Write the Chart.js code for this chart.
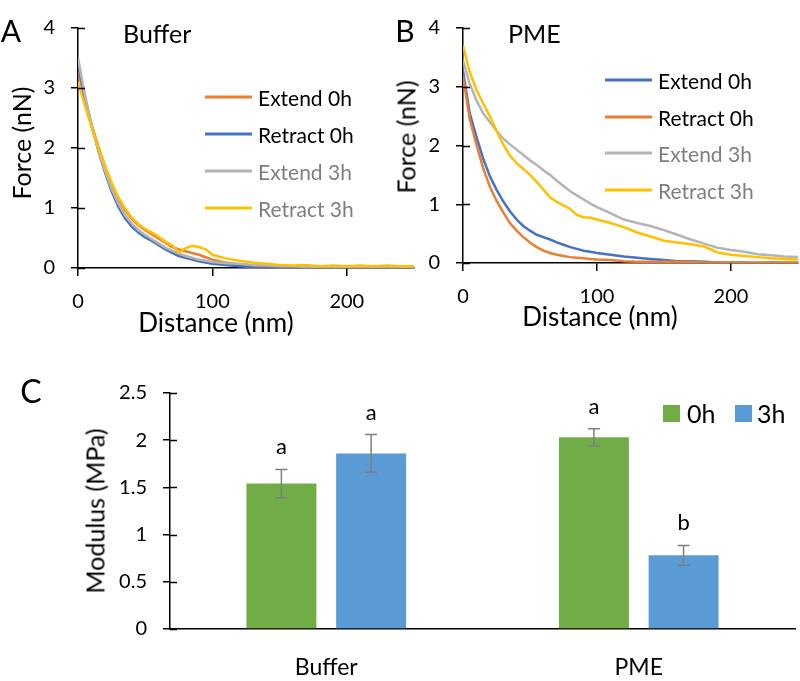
<!DOCTYPE html>
<html>
<head>
<meta charset="utf-8">
<script src="https://cdn.jsdelivr.net/npm/chart.js@4.4.1/dist/chart.umd.min.js"></script>
<style>
    body { margin: 0; background: #fff; }
    #wrap { position: relative; width: 800px; height: 681px; font-family: Lato, "Open Sans", sans-serif; color: #000; }
    #wrap canvas { position: absolute; }
    .t { position: absolute; line-height: 1; white-space: nowrap; transform: translateY(-50%); }
    .c { position: absolute; line-height: 1; white-space: nowrap; transform: translate(-50%, -50%); }
    .rot { position: absolute; line-height: 1; white-space: nowrap; transform: translate(-50%, -50%) rotate(-90deg); }
    .key { position: absolute; height: 3px; width: 47px; transform: translateY(-50%); }
    .sq { position: absolute; width: 17px; height: 17px; }
    .grey { color: #7f7f7f; }
</style>
</head>
<body>
<div id="wrap">
    <canvas id="chartA" width="420" height="335" style="left:0;top:0"></canvas>
    <canvas id="chartB" width="415" height="335" style="left:385px;top:0"></canvas>
    <canvas id="chartC" width="800" height="341" style="left:0;top:340px"></canvas>

    <div class="c" style="left:11px;top:30px;font-size:30px">A</div>
    <div class="c" style="left:405px;top:30px;font-size:30px">B</div>
    <div class="c" style="left:31px;top:391px;font-size:32px">C</div>

    <div class="t" style="left:123px;top:33px;font-size:25px">Buffer</div>
    <div class="t" style="left:508px;top:33px;font-size:25px">PME</div>

    <div class="rot" style="left:21px;top:143px;font-size:25px">Force (nN)</div>
    <div class="c" style="left:216px;top:322px;font-size:26px">Distance (nm)</div>
    <div class="rot" style="left:406px;top:137px;font-size:25px">Force (nN)</div>
    <div class="c" style="left:600px;top:316px;font-size:26px">Distance (nm)</div>
    <div class="rot" style="left:95px;top:511px;font-size:25px">Modulus (MPa)</div>

    <div id="legendA"></div>
    <div id="legendB"></div>

    <div class="sq" style="left:663px;top:405px;background:#70ad47"></div>
    <div class="t" style="left:687px;top:413px;font-size:25px">0h</div>
    <div class="sq" style="left:735px;top:405px;background:#5b9bd5"></div>
    <div class="t" style="left:757px;top:413px;font-size:25px">3h</div>
</div>

<script>
// distance (nm) shared by all force curves
const distance = [0, 5, 10, 15, 20, 25, 30, 35, 40, 45, 50, 55, 60, 65, 70, 75, 80, 85, 90, 95, 100,
    110, 120, 130, 140, 150, 160, 170, 180, 190, 200, 210, 220, 230, 240, 250];
const distanceTicks = [0, 100, 200];
const forceTicks = [0, 1, 2, 3, 4];
const seriesNames = ['Extend 0h', 'Retract 0h', 'Extend 3h', 'Retract 3h'];

// A - Buffer (nN)
const bufExtend0h = [3.3, 2.8, 2.4, 2.03, 1.7, 1.4, 1.15, 0.96, 0.82, 0.71, 0.63, 0.56, 0.49, 0.42, 0.35, 0.31, 0.28, 0.25, 0.22, 0.18, 0.14,
    0.09, 0.06, 0.04, 0.03, 0.03, 0.02, 0.03, 0.02, 0.02, 0.02, 0.02, 0.02, 0.02, 0.02, 0.02];
const bufRetract0h = [3.4, 2.85, 2.38, 1.97, 1.6, 1.28, 1.02, 0.83, 0.69, 0.59, 0.51, 0.45, 0.38, 0.31, 0.25, 0.2, 0.17, 0.14, 0.11, 0.09, 0.07,
    0.05, 0.03, 0.01, 0.0, 0.0, 0.0, 0.0, 0.0, 0.0, 0.0, 0.0, 0.0, 0.0, 0.0, 0.0];
const bufExtend3h = [3.5, 2.9, 2.4, 1.98, 1.62, 1.32, 1.07, 0.88, 0.74, 0.63, 0.55, 0.48, 0.41, 0.34, 0.29, 0.24, 0.2, 0.17, 0.14, 0.12, 0.1,
    0.08, 0.07, 0.05, 0.04, 0.03, 0.03, 0.02, 0.02, 0.02, 0.02, 0.02, 0.02, 0.02, 0.02, 0.02];
const bufRetract3h = [3.1, 2.72, 2.35, 2.0, 1.7, 1.42, 1.18, 0.99, 0.84, 0.73, 0.65, 0.59, 0.52, 0.44, 0.38, 0.26, 0.33, 0.37, 0.35, 0.31, 0.22,
    0.16, 0.12, 0.09, 0.07, 0.05, 0.04, 0.05, 0.03, 0.04, 0.03, 0.04, 0.03, 0.04, 0.03, 0.03];

// B - PME (nN)
const pmeExtend0h = [3.27, 2.55, 2.15, 1.78, 1.48, 1.25, 1.05, 0.88, 0.74, 0.63, 0.55, 0.48, 0.44, 0.4, 0.35, 0.31, 0.27, 0.24, 0.21, 0.19, 0.17,
    0.14, 0.11, 0.09, 0.07, 0.05, 0.03, 0.03, 0.02, 0.01, 0.01, 0.01, 0.0, 0.01, 0.0, 0.0];
const pmeRetract0h = [3.18, 2.45, 2.02, 1.62, 1.3, 1.06, 0.86, 0.68, 0.55, 0.44, 0.35, 0.27, 0.21, 0.17, 0.14, 0.12, 0.1, 0.09, 0.08, 0.07, 0.06,
    0.05, 0.03, 0.02, 0.02, 0.02, 0.02, 0.02, 0.01, 0.01, 0.01, 0.01, 0.01, 0.01, 0.01, 0.01];
const pmeExtend3h = [3.45, 3.05, 2.77, 2.55, 2.4, 2.25, 2.12, 2.02, 1.93, 1.84, 1.75, 1.67, 1.58, 1.5, 1.4, 1.31, 1.22, 1.15, 1.08, 1.01, 0.95,
    0.85, 0.74, 0.68, 0.63, 0.56, 0.48, 0.4, 0.33, 0.26, 0.22, 0.19, 0.15, 0.13, 0.11, 0.1];
const pmeRetract3h = [3.7, 3.25, 2.95, 2.72, 2.5, 2.25, 2.02, 1.83, 1.7, 1.6, 1.5, 1.38, 1.25, 1.12, 1.04, 0.98, 0.92, 0.82, 0.78, 0.77, 0.74,
    0.68, 0.61, 0.52, 0.45, 0.38, 0.35, 0.32, 0.28, 0.18, 0.14, 0.12, 0.1, 0.08, 0.07, 0.06];

// C - modulus (MPa)
const treatments = ['Buffer', 'PME'];
const modulus0h = [1.54, 2.03];
const modulus3h = [1.86, 0.78];
const err0h = [0.15, 0.09];
const err3h = [0.2, 0.105];
const letters0h = ['a', 'a'];
const letters3h = ['a', 'b'];
const modulusTicks = [0, 0.5, 1, 1.5, 2, 2.5];

const ORANGE = '#ed7d31', BLUE = '#4472c4', GREY = '#b4b4b4', YELLOW = '#ffc000';
const FONT = 'Lato, "Open Sans", sans-serif';

Chart.defaults.font.family = FONT;
Chart.defaults.color = '#000';

// y ticks in Excel cross the axis, draw the inner half
const innerTicks = {
    id: 'innerTicks',
    afterDraw(chart) {
        const y = chart.scales.y, ctx = chart.ctx;
        ctx.save();
        ctx.strokeStyle = '#000';
        ctx.lineWidth = 1.5;
        y.ticks.forEach(t => {
            const py = Math.round(y.getPixelForValue(t.value)) + 0.5;
            ctx.beginPath();
            ctx.moveTo(y.right, py);
            ctx.lineTo(y.right + 7, py);
            ctx.stroke();
        });
        ctx.restore();
    }
};

function toPoints(ys) {
    return distance.map((d, i) => ({ x: d, y: ys[i] }));
}

function forceChart(id, series, colors, pad) {
    new Chart(document.getElementById(id), {
        type: 'line',
        data: {
            datasets: series.map((s, i) => ({
                label: seriesNames[i],
                data: toPoints(s),
                borderColor: colors[i],
                borderWidth: 2.5,
                pointRadius: 0,
                tension: 0,
                order: 3 - i
            }))
        },
        options: {
            responsive: false,
            animation: false,
            layout: { padding: pad },
            plugins: { legend: { display: false }, tooltip: { enabled: false } },
            scales: {
                x: {
                    type: 'linear', min: 0, max: 250,
                    afterBuildTicks: s => { s.ticks = distanceTicks.map(v => ({ value: v })); },
                    afterFit: s => { s.height = pad.xh; },
                    ticks: { font: { size: 20 }, padding: 14, maxRotation: 0, callback: v => String(v) },
                    grid: { drawOnChartArea: false, color: '#000', lineWidth: 1.5, tickLength: 8 },
                    border: { color: '#000', width: 1.5 }
                },
                y: {
                    min: 0, max: 4,
                    afterBuildTicks: s => { s.ticks = forceTicks.map(v => ({ value: v })); },
                    afterFit: s => { s.width = pad.yw; },
                    ticks: { font: { size: 20 }, padding: 16, callback: v => String(v) },
                    grid: { drawOnChartArea: false, color: '#000', lineWidth: 1.5, tickLength: 7 },
                    border: { color: '#000', width: 1.5 }
                }
            }
        },
        plugins: [innerTicks]
    });
}

forceChart('chartA', [bufExtend0h, bufRetract0h, bufExtend3h, bufRetract3h],
    [ORANGE, BLUE, GREY, YELLOW], { top: 20, right: 6, left: 0, bottom: 0, xh: 67, yw: 78 });
forceChart('chartB', [pmeExtend0h, pmeRetract0h, pmeExtend3h, pmeRetract3h],
    [BLUE, ORANGE, GREY, YELLOW], { top: 13, right: 2, left: 0, bottom: 0, xh: 72, yw: 78 });

// legends for A and B
function buildLegend(id, colors, left, rows) {
    const box = document.getElementById(id);
    seriesNames.forEach((name, i) => {
        const line = document.createElement('div');
        line.className = 'key';
        line.style.left = left + 'px';
        line.style.top = rows[i] + 'px';
        line.style.background = colors[i];
        box.appendChild(line);
        const txt = document.createElement('div');
        txt.className = 't' + (i >= 2 ? ' grey' : '');
        txt.style.left = (left + 53) + 'px';
        txt.style.top = rows[i] + 'px';
        txt.style.fontSize = '21px';
        txt.textContent = name;
        box.appendChild(txt);
    });
}
buildLegend('legendA', [ORANGE, BLUE, GREY, YELLOW], 205, [97, 134, 171, 208]);
buildLegend('legendB', [BLUE, ORANGE, GREY, YELLOW], 605, [80, 117, 153, 190]);

// error bars and significance letters
const errorBars = {
    id: 'errorBars',
    afterDatasetsDraw(chart) {
        const ctx = chart.ctx, y = chart.scales.y;
        const errs = [err0h, err3h], letters = [letters0h, letters3h];
        chart.data.datasets.forEach((ds, i) => {
            chart.getDatasetMeta(i).data.forEach((bar, j) => {
                const v = ds.data[j], e = errs[i][j];
                const top = y.getPixelForValue(v + e), bot = y.getPixelForValue(v - e);
                ctx.save();
                ctx.strokeStyle = '#7f7f7f';
                ctx.lineWidth = 1.5;
                ctx.beginPath();
                ctx.moveTo(bar.x, top); ctx.lineTo(bar.x, bot);
                ctx.moveTo(bar.x - 6, top); ctx.lineTo(bar.x + 6, top);
                ctx.moveTo(bar.x - 6, bot); ctx.lineTo(bar.x + 6, bot);
                ctx.stroke();
                ctx.fillStyle = '#000';
                ctx.font = '22px ' + FONT;
                ctx.textAlign = 'center';
                ctx.textBaseline = 'alphabetic';
                ctx.fillText(letters[i][j], bar.x, top - 15);
                ctx.restore();
            });
        });
    }
};

new Chart(document.getElementById('chartC'), {
    type: 'bar',
    data: {
        labels: treatments,
        datasets: [
            { label: '0h', data: modulus0h, backgroundColor: '#70ad47' },
            { label: '3h', data: modulus3h, backgroundColor: '#5b9bd5' }
        ]
    },
    options: {
        responsive: false,
        animation: false,
        barPercentage: 0.78,
        categoryPercentage: 0.574,
        layout: { padding: { top: 53, right: 5, left: 0, bottom: 0 } },
        plugins: { legend: { display: false }, tooltip: { enabled: false } },
        scales: {
            x: {
                afterFit: s => { s.height = 52; },
                ticks: { font: { size: 23 }, padding: 17 },
                grid: { display: false },
                border: { color: '#000', width: 1.5 }
            },
            y: {
                min: 0, max: 2.5,
                afterBuildTicks: s => { s.ticks = modulusTicks.map(v => ({ value: v })); },
                afterFit: s => { s.width = 170; },
                ticks: { font: { size: 20 }, padding: 16, callback: v => String(v) },
                grid: { drawOnChartArea: false, color: '#000', lineWidth: 1.5, tickLength: 7 },
                border: { color: '#000', width: 1.5 }
            }
        }
    },
    plugins: [innerTicks, errorBars]
});
</script>
</body>
</html>
